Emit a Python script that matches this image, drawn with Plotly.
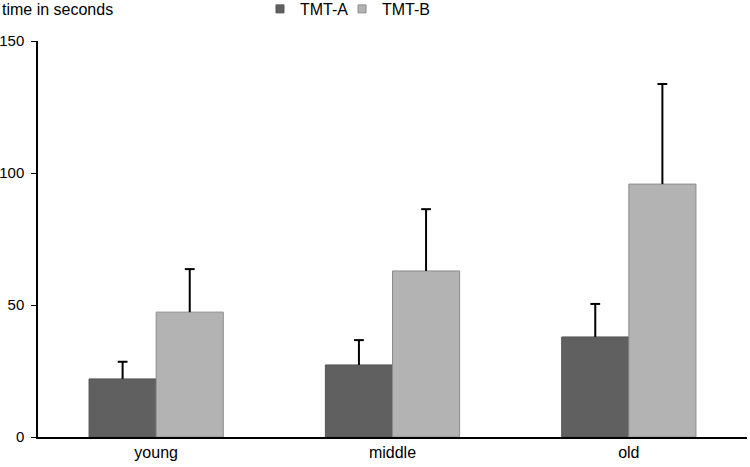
import plotly.graph_objects as go

categories = ["young", "middle", "old"]
tmt_a = [22.0, 27.3, 37.9]
tmt_a_sd = [6.5, 9.4, 12.5]
tmt_b = [47.3, 62.9, 95.8]
tmt_b_sd = [16.3, 23.4, 37.9]
y_ticks = [0, 50, 100, 150]

COL_A = "#606060"
COL_B = "#b3b3b3"
BAR_W = 0.284
pos = list(range(len(categories)))

fig = go.Figure()
series = [
    ("TMT-A", tmt_a, tmt_a_sd, COL_A, "#555555", -BAR_W, "legend"),
    ("TMT-B", tmt_b, tmt_b_sd, COL_B, "#8c8c8c", 0.0, "legend2"),
]
for name, vals, sds, col, lcol, off, lg in series:
    fig.add_trace(go.Bar(
        name=name, x=pos, y=vals, width=BAR_W, offset=off,
        marker=dict(color=col, line=dict(color=lcol, width=1)),
        showlegend=False,
    ))
for name, vals, sds, col, lcol, off, lg in series:
    cx = [p + off + BAR_W / 2 for p in pos]
    xs, ys = [], []
    for x, v, s in zip(cx, vals, sds):
        xs += [x, x, None]
        ys += [v, v + s, None]
    fig.add_trace(go.Scatter(x=xs, y=ys, mode="lines",
                             line=dict(color="#000000", width=2),
                             showlegend=False, hoverinfo="skip"))
    fig.add_trace(go.Scatter(x=cx, y=[v + s for v, s in zip(vals, sds)], mode="markers",
                             marker=dict(symbol="line-ew-open", size=7, color="#000000",
                                         line=dict(color="#000000", width=2)),
                             showlegend=False, hoverinfo="skip"))
# legend entries
for name, vals, sds, col, lcol, off, lg in series:
    fig.add_trace(go.Scatter(x=[None], y=[None], mode="markers", name=name, legend=lg,
                             marker=dict(symbol="square", size=8, color=col,
                                         line=dict(color=lcol, width=1))))

leg_common = dict(orientation="h", y=1.0808, xref="paper", yref="paper",
                  xanchor="left", yanchor="middle", font=dict(size=16),
                  itemwidth=30, bgcolor="rgba(0,0,0,0)", borderwidth=0)

fig.update_layout(
    width=750, height=467,
    margin=dict(l=38, r=3, t=41, b=30, autoexpand=False),
    paper_bgcolor="white", plot_bgcolor="white",
    font=dict(family="Liberation Sans, Arial, sans-serif", size=16, color="#000000"),
    barmode="overlay",
    showlegend=True,
    legend=dict(x=0.3131, **leg_common),
    legend2=dict(x=0.4288, **leg_common),
    annotations=[dict(text="time in seconds", x=-38 / 709, y=1.0808, xref="paper",
                      yref="paper", xanchor="left", yanchor="middle", showarrow=False,
                      font=dict(size=16))],
)
fig.update_xaxes(range=[-0.5, 2.5], tickvals=pos, ticktext=categories,
                 showline=True, linecolor="#000000", linewidth=1.5, ticks="",
                 showgrid=False, zeroline=False, tickfont=dict(size=16))
fig.update_yaxes(range=[0, 150], tickvals=y_ticks, showline=True, linecolor="#000000",
                 linewidth=1.5, ticks="outside", ticklen=5, tickcolor="#000000",
                 ticklabelstandoff=4,
                 showgrid=False, zeroline=False, tickfont=dict(size=15))

fig.write_html("out.html", config={"displayModeBar": False},
               post_script="document.body.style.margin='0';")
